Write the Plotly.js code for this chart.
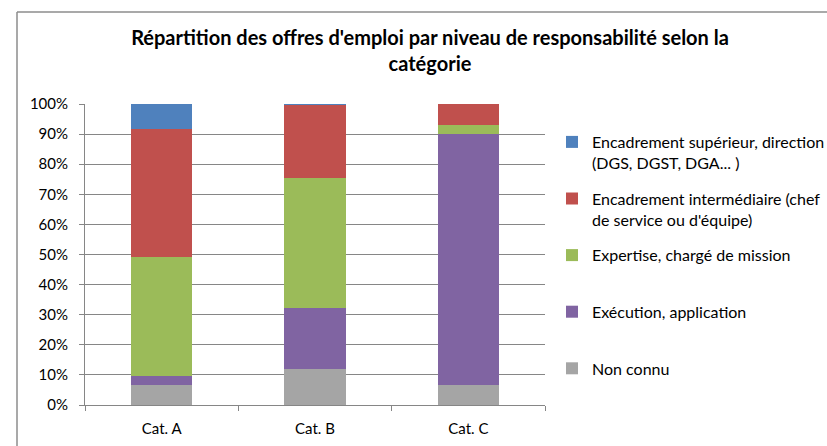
<!DOCTYPE html>
<html>
<head>
<meta charset="utf-8">
<script src="https://cdn.plot.ly/plotly-3.0.1.min.js"></script>
<style>
html,body{margin:0;padding:0;background:#fff;}
#chart{width:827px;height:446px;}
</style>
</head>
<body>
<div id="chart"></div>
<script>
const categories = ["Cat. A", "Cat. B", "Cat. C"];
const seriesNames = [
  "Non connu",
  "Exécution, application",
  "Expertise, chargé de mission",
  "Encadrement intermédiaire (chef<br>de service ou d'équipe)",
  "Encadrement supérieur, direction<br>(DGS, DGST, DGA... )"
];
const nonConnu = [6.5, 11.9, 6.7];
const execution = [3.2, 20.3, 83.4];
const expertise = [39.6, 43.3, 3.0];
const intermediaire = [42.5, 24.2, 6.9];
const superieur = [8.2, 0.3, 0.0];
const seriesColors = ["#A5A5A5", "#8064A2", "#9BBB59", "#C0504D", "#4F81BD"];
const yTickVals = [0,10,20,30,40,50,60,70,80,90,100];
const yTickText = ["0%","10%","20%","30%","40%","50%","60%","70%","80%","90%","100%"];

const seriesValues = [nonConnu, execution, expertise, intermediaire, superieur];

const FONT = "Lato, 'Open Sans', sans-serif";

const traces = seriesValues.map((vals, i) => ({
  type: "bar",
  name: seriesNames[i].indexOf("<br>") >= 0 ? seriesNames[i] : seriesNames[i] + "<br> ",
  x: categories,
  y: vals,
  legendgroup: "g" + i,
  legendrank: 1000 - i,
  marker: {color: seriesColors[i], line: {width: 0}},
  hoverinfo: "x+y+name"
}));

// plot area in pixels
const L = 85, R = 545, T = 104, B = 405;
const W = 827, H = 446;
const px = x => (x - L) / (R - L);
const py = y => (B - y) / (B - T);

const layout = {
  width: W, height: H,
  margin: {l: L, r: W - R, t: T, b: H - B, pad: 0, autoexpand: false},
  paper_bgcolor: "#ffffff",
  plot_bgcolor: "#ffffff",
  barmode: "stack",
  bargap: 0.6,
  font: {family: FONT, size: 15, color: "#000000"},
  title: {
    text: "<b>Répartition des offres d'emploi par niveau de responsabilité selon la<br>catégorie</b>",
    font: {family: FONT, size: 20, color: "#000000"},
    xref: "container", yref: "container",
    x: 430 / W, xanchor: "center",
    y: 1 - 45 / H, yanchor: "top"
  },
  xaxis: {
    type: "category",
    showgrid: false,
    showline: true, linecolor: "#868686", linewidth: 1,
    ticks: "outside", tickson: "boundaries", ticklen: 5, tickcolor: "#868686",
    ticklabelstandoff: 10,
    tickfont: {family: FONT, size: 15, color: "#000000"},
    fixedrange: true
  },
  yaxis: {
    range: [0, 100],
    tickvals: yTickVals, ticktext: yTickText,
    showgrid: true, gridcolor: "#868686", gridwidth: 1,
    showline: true, linecolor: "#868686", linewidth: 1,
    ticks: "outside", ticklen: 5, tickcolor: "#868686",
    ticklabelstandoff: 8,
    tickfont: {family: FONT, size: 15, color: "#000000"},
    zeroline: false,
    fixedrange: true
  },
  legend: {
    x: px(552), xanchor: "left",
    y: py(125), yanchor: "top",
    traceorder: "grouped",
    tracegroupgap: 12,
    valign: "top",
    font: {family: FONT, size: 16, color: "#000000"},
    bgcolor: "rgba(0,0,0,0)",
    borderwidth: 0
  },
  shapes: [
    {type: "line", xref: "paper", yref: "paper",
     x0: px(17), x1: px(17), y0: py(460), y1: py(12),
     line: {color: "#8c8c8c", width: 1.5}},
    {type: "line", xref: "paper", yref: "paper",
     x0: px(17), x1: px(900), y0: py(12), y1: py(12),
     line: {color: "#8c8c8c", width: 1.5}}
  ],
  showlegend: true
};

Plotly.newPlot("chart", traces, layout, {displayModeBar: false, staticPlot: true});
</script>
</body>
</html>
